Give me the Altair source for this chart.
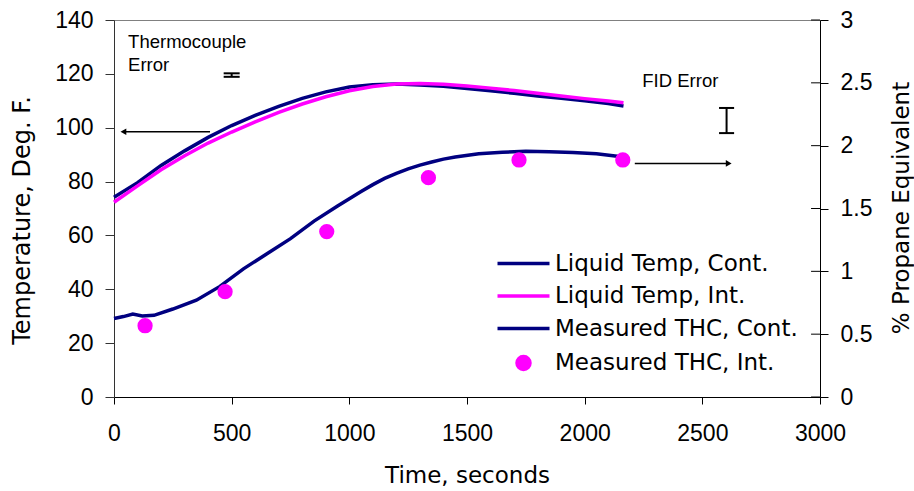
import altair as alt
import pandas as pd

# ---------------- data ----------------
temp_t = [0, 100, 200, 300, 400, 500, 600, 700, 800, 900, 1000, 1100, 1200,
          1300, 1400, 1500, 1600, 1700, 1800, 1900, 2000, 2100, 2165]
liq_cont = [74.2, 79.6, 86.0, 91.4, 96.4, 100.8, 104.6, 107.9, 110.9, 113.3, 115.1, 116.0, 116.2,
            115.9, 115.4, 114.6, 113.7, 112.8, 111.8, 110.9, 110.0, 109.0, 108.1]
liq_int = [72.3, 78.4, 84.4, 89.6, 94.3, 98.4, 102.2, 105.7, 108.8, 111.5, 113.7, 115.3, 116.2,
           116.4, 116.1, 115.5, 114.7, 113.8, 112.8, 111.8, 110.8, 109.9, 109.3]

thc_t = [0, 40, 80, 120, 170, 250, 350, 450, 550, 650, 750, 850, 950, 1050, 1100, 1150, 1200,
         1250, 1300, 1350, 1400, 1450, 1550, 1650, 1750, 1850, 1950, 2050, 2165]
thc_cont = [0.625, 0.64, 0.66, 0.645, 0.65, 0.70, 0.77, 0.88, 1.02, 1.14, 1.26, 1.40, 1.52, 1.635, 1.69, 1.74, 1.78,
            1.815, 1.845, 1.87, 1.893, 1.91, 1.935, 1.948, 1.955, 1.952, 1.945, 1.935, 1.91]

pts_t = [132, 472, 904, 1336, 1721, 2162]
thc_int = [0.567, 0.838, 1.316, 1.745, 1.886, 1.886]

series = ["Liquid Temp, Cont.", "Liquid Temp, Int.", "Measured THC, Cont.", "Measured THC, Int."]
colors = ["#000080", "#FF00FF", "#000080", "#FF00FF"]
LINE_SYM = "M-4,0H4"
symbols = [LINE_SYM, LINE_SYM, LINE_SYM, "circle"]

x_ticks = [0, 500, 1000, 1500, 2000, 2500, 3000]
left_ticks = [0, 20, 40, 60, 80, 100, 120, 140]
right_ticks = [0, 0.5, 1, 1.5, 2, 2.5, 3]

thermo_text = ["Thermocouple", "Error"]
thermo_text_t = [60, 60]
thermo_text_y = [129.6, 121.1]
thermo_bar_t = 500
thermo_bar_lo, thermo_bar_hi = 118.9, 120.2
thermo_cap = [466, 534]

fid_text = ["FID Error"]
fid_text_t = [2245]
fid_text_y = [2.465]
fid_bar_t = 2603
fid_bar_lo, fid_bar_hi = 2.1, 2.3
fid_cap = [2571, 2635]

left_arrow_t = [408, 40]
left_arrow_y = 98.5
right_arrow_t = [2213, 2612]
right_arrow_y = 1.859

temp_df = pd.concat([
    pd.DataFrame({"t": temp_t, "v": liq_cont, "series": series[0]}),
    pd.DataFrame({"t": temp_t, "v": liq_int, "series": series[1]}),
])
thc_df = pd.DataFrame({"t": thc_t, "v": thc_cont, "series": series[2]})
pts_df = pd.DataFrame({"t": pts_t, "v": thc_int, "series": series[3]})

FONT_TICK = "Liberation Sans"
FONT_TITLE = "DejaVu Sans"

xs = alt.Scale(domain=[0, 3000], nice=False, zero=False)
yl = alt.Scale(domain=[0, 140], nice=False)
yr = alt.Scale(domain=[0, 3], nice=False)

x_axis = alt.Axis(values=x_ticks, format="d", title="Time, seconds", grid=False, tickSize=7,
                  labelPadding=18, labelFont=FONT_TICK, labelFontSize=23, labelColor="black",
                  labelFlush=False, labelOverlap=False,
                  domainColor="black", tickColor="black",
                  titleFont=FONT_TITLE, titleFontSize=23, titleFontWeight="normal",
                  titleColor="black", titleY=85, titleBaseline="alphabetic")

yl_axis = alt.Axis(values=left_ticks, title="Temperature, Deg. F.", grid=False, tickSize=9,
                   labelPadding=12, labelFont=FONT_TICK, labelFontSize=23, labelColor="black",
                   labelFlush=False, labelOverlap=False,
                   domainColor="#333333", tickColor="#333333",
                   titleFont=FONT_TITLE, titleFontSize=24, titleFontWeight="normal",
                   titleColor="black", titleAngle=270, titleX=-85, titleY=200,
                   titleBaseline="alphabetic", titleAlign="center")

yr_axis = alt.Axis(values=right_ticks, format=".1~f", orient="right", title="% Propane Equivalent",
                   grid=False, tickSize=8, labelPadding=12, labelFont=FONT_TICK, labelFontSize=23,
                   labelColor="black", labelFlush=False, labelOverlap=False,
                   domainColor="black", tickColor="black",
                   titleFont=FONT_TITLE, titleFontSize=23, titleFontWeight="normal",
                   titleColor="black", titleAngle=270, titleX=88, titleY=187.5,
                   titleBaseline="alphabetic", titleAlign="center")

# one legend shared by every channel that encodes the series (they merge into one)
legend = alt.Legend(orient="none", legendX=398, legendY=232, title=None,
                    labelFont=FONT_TITLE, labelFontSize=23, labelColor="black", labelLimit=400,
                    labelOffset=20, rowPadding=8.5, symbolStrokeWidth=3.5, symbolSize=169)

# ---------------- left (temperature) layers ----------------
temp_lines = alt.Chart(temp_df).mark_line(strokeWidth=3.5).encode(
    x=alt.X("t:Q", scale=xs, axis=x_axis),
    y=alt.Y("v:Q", scale=yl, axis=yl_axis),
    color=alt.Color("series:N", scale=alt.Scale(domain=series, range=colors), legend=legend),
)

thermo_txt = alt.Chart(pd.DataFrame({"t": thermo_text_t, "v": thermo_text_y, "label": thermo_text})).mark_text(
    align="left", baseline="alphabetic", font=FONT_TICK, fontSize=18.5, color="black"
).encode(x=alt.X("t:Q", scale=xs), y=alt.Y("v:Q", scale=yl), text="label:N")

thermo_bar = alt.Chart(pd.DataFrame({"t": [thermo_bar_t], "lo": [thermo_bar_lo], "hi": [thermo_bar_hi]})).mark_rule(
    color="black", strokeWidth=2
).encode(x=alt.X("t:Q", scale=xs), y=alt.Y("lo:Q", scale=yl), y2="hi:Q")

thermo_caps = alt.Chart(pd.DataFrame({"a": [thermo_cap[0]] * 2, "b": [thermo_cap[1]] * 2,
                                      "v": [thermo_bar_lo, thermo_bar_hi]})).mark_rule(
    color="black", strokeWidth=2
).encode(x=alt.X("a:Q", scale=xs), x2="b:Q", y=alt.Y("v:Q", scale=yl))

larrow = alt.Chart(pd.DataFrame({"a": [left_arrow_t[0]], "b": [left_arrow_t[1]], "v": [left_arrow_y]})).mark_rule(
    color="black", strokeWidth=1.5
).encode(x=alt.X("a:Q", scale=xs), x2="b:Q", y=alt.Y("v:Q", scale=yl))

larrow_head = alt.Chart(pd.DataFrame({"t": [left_arrow_t[1]], "v": [left_arrow_y]})).mark_point(
    shape="triangle-left", filled=True, color="black", size=45, opacity=1
).encode(x=alt.X("t:Q", scale=xs), y=alt.Y("v:Q", scale=yl))

left = alt.layer(temp_lines, thermo_txt, thermo_bar, thermo_caps, larrow, larrow_head)

# ---------------- right (THC) layers ----------------
thc_line = alt.Chart(thc_df).mark_line(strokeWidth=3.5, color="#000080").encode(
    x=alt.X("t:Q", scale=xs),
    y=alt.Y("v:Q", scale=yr, axis=yr_axis),
)

pts = alt.Chart(pts_df).mark_point(filled=True, opacity=1, strokeWidth=3, size=150).encode(
    x=alt.X("t:Q", scale=xs),
    y=alt.Y("v:Q", scale=yr),
    fill=alt.Fill("series:N", scale=alt.Scale(domain=series, range=colors), legend=legend),
    stroke=alt.Stroke("series:N", scale=alt.Scale(domain=series, range=colors), legend=legend),
    shape=alt.Shape("series:N", scale=alt.Scale(domain=series, range=symbols), legend=legend),
)

fid_txt = alt.Chart(pd.DataFrame({"t": fid_text_t, "v": fid_text_y, "label": fid_text})).mark_text(
    align="left", baseline="alphabetic", font=FONT_TICK, fontSize=18.5, color="black"
).encode(x=alt.X("t:Q", scale=xs), y=alt.Y("v:Q", scale=yr), text="label:N")

fid_bar = alt.Chart(pd.DataFrame({"t": [fid_bar_t], "lo": [fid_bar_lo], "hi": [fid_bar_hi]})).mark_rule(
    color="black", strokeWidth=2
).encode(x=alt.X("t:Q", scale=xs), y=alt.Y("lo:Q", scale=yr), y2="hi:Q")

fid_caps = alt.Chart(pd.DataFrame({"a": [fid_cap[0]] * 2, "b": [fid_cap[1]] * 2,
                                   "v": [fid_bar_lo, fid_bar_hi]})).mark_rule(
    color="black", strokeWidth=2
).encode(x=alt.X("a:Q", scale=xs), x2="b:Q", y=alt.Y("v:Q", scale=yr))

rarrow = alt.Chart(pd.DataFrame({"a": [right_arrow_t[0]], "b": [right_arrow_t[1]], "v": [right_arrow_y]})).mark_rule(
    color="black", strokeWidth=1.5
).encode(x=alt.X("a:Q", scale=xs), x2="b:Q", y=alt.Y("v:Q", scale=yr))

rarrow_head = alt.Chart(pd.DataFrame({"t": [right_arrow_t[1]], "v": [right_arrow_y]})).mark_point(
    shape="triangle-right", filled=True, color="black", size=45, opacity=1
).encode(x=alt.X("t:Q", scale=xs), y=alt.Y("v:Q", scale=yr))

inner_ticks = alt.Chart(pd.DataFrame({"v": right_ticks})).mark_rule(color="black", strokeWidth=1).encode(
    x=alt.XDatum(2962, type="quantitative", scale=xs),
    x2=alt.X2Datum(3000),
    y=alt.Y("v:Q", scale=yr),
)

right = alt.layer(thc_line, pts, fid_txt, fid_bar, fid_caps, rarrow, rarrow_head, inner_ticks)

chart = alt.layer(left, right).resolve_scale(y="independent").properties(
    width=706, height=377,
    autosize=alt.AutoSizeParams(type="none"),
    padding={"left": 114, "top": 20, "right": 94, "bottom": 94},
    background="white",
).configure_view(stroke="#808080", strokeWidth=1)

chart.save("out.html", embed_options={"renderer": "svg", "actions": False})
